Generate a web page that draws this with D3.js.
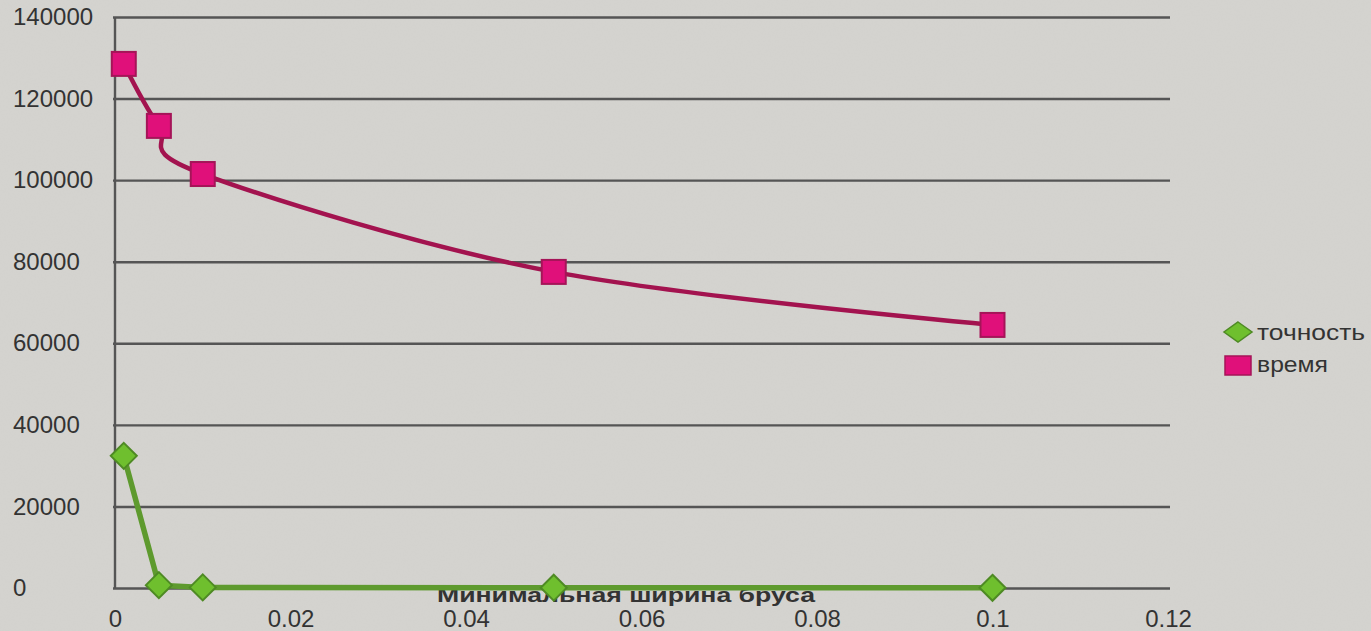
<!DOCTYPE html>
<html>
<head>
<meta charset="utf-8">
<script src="https://cdn.jsdelivr.net/npm/d3@7"></script>
<style>
  html, body { margin: 0; padding: 0; background: #d5d4d0; }
  svg { display: block; }
  text { font-family: "Liberation Sans", Arial, sans-serif; fill: #333; }
</style>
</head>
<body>
<svg id="chart" width="1371" height="631"></svg>
<script>
// Minimum beam width (x) and the two measured series
const widths = [0.001, 0.005, 0.01, 0.05, 0.1];
const accuracy = [32400, 700, 150, 80, 50];
const timeVals = [128500, 113300, 101500, 77500, 64500];
const yTicks = [0, 20000, 40000, 60000, 80000, 100000, 120000, 140000];
const xTicks = [0, 0.02, 0.04, 0.06, 0.08, 0.1, 0.12];
const seriesNames = ["точность", "время"];
const xTitle = "Минимальная ширина бруса";

const svg = d3.select("#chart");
const W = 1371, H = 631;

// paper-like background with a faint grain
const defs = svg.append("defs");
const f = defs.append("filter").attr("id", "grain").attr("x", 0).attr("y", 0).attr("width", "100%").attr("height", "100%");
f.append("feTurbulence").attr("type", "fractalNoise").attr("baseFrequency", 0.6).attr("numOctaves", 2).attr("seed", 3).attr("result", "n");
f.append("feColorMatrix").attr("in", "n").attr("type", "matrix")
  .attr("values", "0 0 0 0 0.55  0 0 0 0 0.55  0 0 0 0 0.53  0 0 0 -1.6 0.9");
svg.append("rect").attr("width", W).attr("height", H).attr("fill", "#d4d3cf");
svg.append("rect").attr("width", W).attr("height", H).attr("filter", "url(#grain)").attr("opacity", 0.12);

const x = d3.scaleLinear().domain([0, 0.12]).range([115, 1168]);
const y = d3.scaleLinear().domain([0, 140000]).range([588, 17]);

// horizontal gridlines with left-aligned y tick labels
const yAxis = d3.axisLeft(y).tickValues(yTicks).tickSize(-(x.range()[1] - x.range()[0]) - 2)
  .tickPadding(16).tickFormat(d3.format("d"));
const gy = svg.append("g").attr("transform", `translate(${x.range()[0]},0)`).call(yAxis);
gy.select(".domain").attr("stroke", "#555").attr("stroke-width", 2.4).attr("d", `M0,${y(140000)}V${y(0)}`);
gy.selectAll(".tick line").attr("stroke", "#555").attr("stroke-width", 2.4).attr("x1", -2);
gy.selectAll(".tick text").attr("font-size", 24).attr("fill", "#333")
  .attr("font-family", "'Liberation Sans', Arial, sans-serif")
  .attr("text-anchor", "start").attr("x", 13 - x.range()[0]);

// x tick labels
const xAxis = d3.axisBottom(x).tickValues(xTicks).tickSize(0).tickPadding(22)
  .tickFormat(d => d === 0 ? "0" : d3.format("")(+d.toFixed(2)));
const gx = svg.append("g").attr("transform", `translate(0,${y(0)})`).call(xAxis);
gx.select(".domain").remove();
gx.selectAll(".tick text").attr("font-size", 24).attr("fill", "#333")
  .attr("font-family", "'Liberation Sans', Arial, sans-serif");

// axis title sits right under the zero line
svg.append("text").attr("x", 626).attr("y", 602).attr("text-anchor", "middle")
  .attr("font-size", 21).attr("font-weight", "bold").attr("fill", "#222")
  .attr("textLength", 378).attr("lengthAdjust", "spacingAndGlyphs").text(xTitle);

const timePts = widths.map((w, i) => [w, timeVals[i]]);
const accPts = widths.map((w, i) => [w, accuracy[i]]);

const timeLine = d3.line().x(d => x(d[0])).y(d => y(d[1])).curve(d3.curveCatmullRom.alpha(0));
const accLine = d3.line().x(d => x(d[0])).y(d => y(d[1])).curve(d3.curveLinear);

// time series: smoothed line with square markers
svg.append("path").datum(timePts).attr("d", timeLine).attr("fill", "none")
  .attr("stroke", "#a3134f").attr("stroke-width", 4.5);
svg.append("g").selectAll("rect").data(timePts).join("rect")
  .attr("x", d => x(d[0]) - 12).attr("y", d => y(d[1]) - 12)
  .attr("width", 24).attr("height", 24)
  .attr("fill", "#e0107a").attr("stroke", "#a51458").attr("stroke-width", 2);

// accuracy series with diamond markers
svg.append("path").datum(accPts).attr("d", accLine).attr("fill", "none")
  .attr("stroke", "#5e9a2e").attr("stroke-width", 5.5).attr("stroke-linejoin", "round");
const diamond = "M0,-13L13,0L0,13L-13,0Z";
svg.append("g").selectAll("path").data(accPts).join("path")
  .attr("transform", d => `translate(${x(d[0])},${y(d[1])})`)
  .attr("d", diamond).attr("fill", "#6fbf2e").attr("stroke", "#4e8a24").attr("stroke-width", 2);

// legend
const lg = svg.append("g");
lg.append("path").attr("transform", "translate(1238,332)")
  .attr("d", "M0,-10L14,0L0,10L-14,0Z").attr("fill", "#6fbf2e").attr("stroke", "#4e8a24").attr("stroke-width", 1.5);
lg.append("rect").attr("x", 1225).attr("y", 356).attr("width", 26).attr("height", 19)
  .attr("fill", "#e0107a").attr("stroke", "#a51458").attr("stroke-width", 1.5);
lg.append("text").attr("x", 1257).attr("y", 340).attr("font-size", 22).attr("fill", "#333")
  .attr("textLength", 108).attr("lengthAdjust", "spacingAndGlyphs").text(seriesNames[0]);
lg.append("text").attr("x", 1257).attr("y", 372).attr("font-size", 22).attr("fill", "#333")
  .attr("textLength", 71).attr("lengthAdjust", "spacingAndGlyphs").text(seriesNames[1]);
</script>
</body>
</html>
